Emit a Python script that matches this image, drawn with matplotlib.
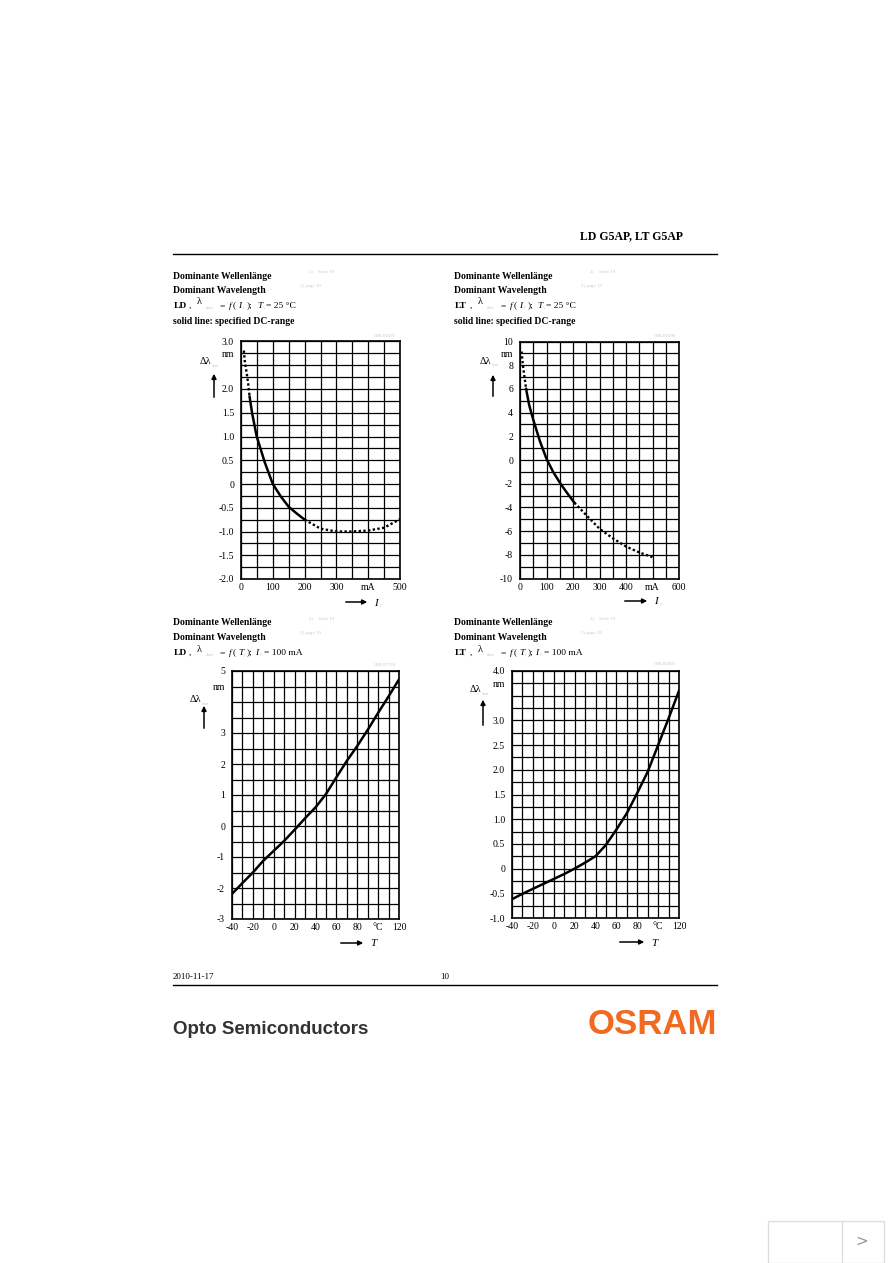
import matplotlib.pyplot as plt
import numpy as np
from matplotlib.patches import Rectangle, FancyArrowPatch

# --- data ---
# LD, lambda_dom = f(I_F), T_A = 25 C
ld_i_dot1 = [9, 12, 18, 23, 27]
ld_d_dot1 = [2.81, 2.58, 2.33, 2.09, 1.84]
ld_i_solid = [27, 35, 49, 75, 100, 125, 150, 175, 200]
ld_d_solid = [1.84, 1.49, 1.01, 0.45, 0.0, -0.26, -0.48, -0.62, -0.75]
ld_i_dot2 = [200, 250, 300, 350, 400, 450, 500]
ld_d_dot2 = [-0.75, -0.94, -1.0, -1.0, -0.98, -0.92, -0.74]

# LT, lambda_dom = f(I_F), T_A = 25 C
lt_i_dot1 = [6, 10, 15, 20, 23]
lt_d_dot1 = [9.15, 8.2, 7.3, 6.5, 6.0]
lt_i_solid = [23, 35, 50, 75, 100, 125, 150, 175, 205]
lt_d_solid = [6.0, 4.6, 3.4, 1.6, 0.1, -1.0, -1.9, -2.7, -3.6]
lt_i_dot2 = [205, 250, 300, 350, 400, 450, 500]
lt_d_dot2 = [-3.6, -4.65, -5.8, -6.6, -7.3, -7.8, -8.2]

# f(T_j), I_F = 100 mA
temp = [-40, -30, -20, -10, 0, 10, 20, 30, 40, 50, 60, 70, 80, 90, 100, 110, 120]
ld_d_temp = [-2.19, -1.84, -1.5, -1.12, -0.8, -0.48, -0.12, 0.25, 0.6, 1.03,
             1.57, 2.1, 2.58, 3.1, 3.65, 4.18, 4.73]
lt_d_temp = [-0.62, -0.51, -0.41, -0.31, -0.21, -0.11, 0.0, 0.12, 0.25, 0.48,
             0.79, 1.12, 1.53, 1.96, 2.5, 3.04, 3.6]

W, H = 892, 1263
plt.rcParams['font.family'] = ['Liberation Serif', 'DejaVu Serif']
fig = plt.figure(figsize=(W / 100, H / 100), dpi=100)


def put(x, y, s, size=7, **kw):
    kw.setdefault('va', 'center')
    fig.text(x / W, 1 - y / H, s, fontsize=size, **kw)


def hline(x0, x1, y, lw=1.0):
    fig.add_artist(plt.Line2D([x0 / W, x1 / W], [1 - y / H, 1 - y / H],
                              color='black', lw=lw))


def arrow(x0, y0, x1, y1):
    fig.patches.append(FancyArrowPatch(
        (x0 / W, 1 - y0 / H), (x1 / W, 1 - y1 / H), transform=fig.transFigure,
        arrowstyle='-|>', mutation_scale=7, lw=1.1, color='black'))


def make_chart(box, xlim, ylim, xstep, ystep, xt, xtl, yt, ytl):
    x0, y0, x1, y1 = box
    ax = fig.add_axes([x0 / W, 1 - y1 / H, (x1 - x0) / W, (y1 - y0) / H])
    ax.set_xlim(xlim)
    ax.set_ylim(ylim)
    ax.set_xticks(np.arange(xlim[0], xlim[1] + xstep / 2, xstep), minor=True)
    ax.set_yticks(np.arange(ylim[0], ylim[1] + ystep / 2, ystep), minor=True)
    ax.set_xticks(xt, xtl)
    ax.set_yticks(yt, ytl)
    ax.grid(which='both', color='black', lw=0.9)
    ax.set_axisbelow(True)
    ax.tick_params(which='both', length=0, labelsize=7, pad=3)
    ax.tick_params(axis='y', pad=5)
    for sp in ax.spines.values():
        sp.set_linewidth(1.2)
    return ax


dot = dict(color='black', lw=1.7, ls=(0, (1, 1)))
sol = dict(color='black', lw=1.8)

# chart 1: LD vs current
ax1 = make_chart((241, 341.5, 400, 579), (0, 500), (-2, 3), 50, 0.25,
                 [0, 100, 200, 300, 400, 500], ['0', '100', '200', '300', 'mA', '500'],
                 [3, 2.75, 2, 1.5, 1, 0.5, 0, -0.5, -1, -1.5, -2],
                 ['3.0', 'nm', '2.0', '1.5', '1.0', '0.5', '0', '-0.5', '-1.0', '-1.5', '-2.0'])
ax1.plot(ld_i_dot1, ld_d_dot1, **dot)
ax1.plot(ld_i_solid, ld_d_solid, **sol)
ax1.plot(ld_i_dot2, ld_d_dot2, **dot)

# chart 2: LT vs current
ax2 = make_chart((520, 341.5, 679, 578.5), (0, 600), (-10, 10), 50, 1,
                 [0, 100, 200, 300, 400, 500, 600], ['0', '100', '200', '300', '400', 'mA', '600'],
                 [10, 9, 8, 6, 4, 2, 0, -2, -4, -6, -8, -10],
                 ['10', 'nm', '8', '6', '4', '2', '0', '-2', '-4', '-6', '-8', '-10'])
ax2.plot(lt_i_dot1, lt_d_dot1, **dot)
ax2.plot(lt_i_solid, lt_d_solid, **sol)
ax2.plot(lt_i_dot2, lt_d_dot2, **dot)

tx = [-40, -20, 0, 20, 40, 60, 80, 100, 120]
txl = ['-40', '-20', '0', '20', '40', '60', '80', '°C', '120']

# chart 3: LD vs temperature
ax3 = make_chart((232, 671, 399, 919), (-40, 120), (-3, 5), 10, 0.5, tx, txl,
                 [5, 4.5, 3, 2, 1, 0, -1, -2, -3],
                 ['5', 'nm', '3', '2', '1', '0', '-1', '-2', '-3'])
ax3.plot(temp, ld_d_temp, **sol)

# chart 4: LT vs temperature
ax4 = make_chart((512, 671, 679, 918), (-40, 120), (-1, 4), 10, 0.25, tx, txl,
                 [4, 3.75, 3, 2.5, 2, 1.5, 1, 0.5, 0, -0.5, -1],
                 ['4.0', 'nm', '3.0', '2.5', '2.0', '1.5', '1.0', '0.5', '0', '-0.5', '-1.0'])
ax4.plot(temp, lt_d_temp, **sol)

# --- page header / footer ---
put(683, 236, 'LD G5AP, LT G5AP', size=8.5, weight='bold', ha='right')
hline(173, 717, 254)
put(173, 977, '2010-11-17', size=6.5)
put(440, 977, '10', size=6.5)
hline(173, 717, 985)
put(173, 1029, 'Opto Semiconductors', size=13.5, weight='bold',
    family='Liberation Sans', color='#333333')
put(717, 1024, 'OSRAM', size=25, weight='bold', family='Liberation Sans',
    color='#f26a21', ha='right')

gray = '#c8c8c8'


def titles(x0, ytop, dev, var, sub):
    put(x0, ytop, 'Dominante Wellenlänge', size=6.9, weight='bold')
    put(x0, ytop + 14.5, 'Dominant Wavelength', size=6.9, weight='bold')
    put(x0 + 136, ytop - 5, '2)    Seite 19', size=3.5, color=gray)
    put(x0 + 127, ytop + 10, '2) page 19', size=3.5, color=gray)
    y3 = ytop + 30
    put(x0 + 1, y3, dev, size=6.8, weight='bold')
    put(x0 + 16, y3, ',', size=6.8)
    put(x0 + 24, y3 - 4, 'λ', size=7.5)
    put(x0 + 33, y3 + 2, 'dom', size=3.2, color=gray)
    put(x0 + 47, y3, '=', size=6.8)
    put(x0 + 56, y3, 'f', size=6.8, style='italic')
    put(x0 + 60, y3, '(', size=6.8)
    put(x0 + 65, y3, var, size=6.8, style='italic')
    put(x0 + 70, y3 + 2, sub, size=3.2, color=gray)
    put(x0 + 74, y3, ');', size=6.8)
    return y3


def cond(x, y, var, sub, rest):
    put(x, y, var, size=6.8, style='italic')
    put(x + 5, y + 2, sub, size=3.2, color=gray)
    put(x + 9, y, rest, size=6.8)


y3 = titles(173, 276, 'LD', 'I', 'F')
cond(257, y3, 'T', 'A', '= 25 °C')
put(173, 322, 'solid line: specified DC-range', size=6.9, weight='bold')

y3 = titles(454, 276, 'LT', 'I', 'F')
cond(537, y3, 'T', 'A', '= 25 °C')
put(454, 322, 'solid line: specified DC-range', size=6.9, weight='bold')

y3 = titles(173, 623, 'LD', 'T', 'j')
cond(255, y3, 'I', 'F', '= 100 mA')

y3 = titles(454, 623, 'LT', 'T', 'j')
cond(535, y3, 'I', 'F', '= 100 mA')

# faint drawing codes
put(396, 336, 'OHL01697', size=3.5, color=gray, ha='right')
put(676, 336, 'OHL01698', size=3.5, color=gray, ha='right')
put(396, 665, 'OHL01704', size=3.5, color=gray, ha='right')
put(676, 664, 'OHL01800', size=3.5, color=gray, ha='right')

# axis name labels with arrows
for (lx, ly, ax_x, a0, a1) in [(200, 362, 214, 400, 371), (480, 361, 493, 399, 372),
                               (190, 700, 204, 731, 703), (470, 690, 483, 728, 697)]:
    put(lx, ly, 'Δλ', size=7.5)
    put(lx + 12, ly + 4, 'dom', size=3, color=gray)
    arrow(ax_x, a0, ax_x, a1)

for (x0, x1, y, lab, sub) in [(343, 370, 602, 'I', 'F'), (622, 650, 601, 'I', 'F'),
                              (338, 366, 943, 'T', 'j'), (617, 647, 942, 'T', 'j')]:
    arrow(x0, y, x1, y)
    put(x1 + 4, y + 1, lab, size=8, style='italic')
    put(x1 + 10, y + 4, sub, size=3, color=gray)

# viewer widget in the corner
fig.patches.append(Rectangle((768 / W, 0), (884 - 768) / W, (1263 - 1221) / H,
                             transform=fig.transFigure, fill=False,
                             edgecolor='#dddddd', lw=1))
fig.add_artist(plt.Line2D([842 / W, 842 / W], [0, 42 / H], color='#dddddd', lw=1))
put(862, 1241, '>', size=11, color='#999999', family='DejaVu Sans', ha='center')

plt.savefig('out.png', dpi=100)
